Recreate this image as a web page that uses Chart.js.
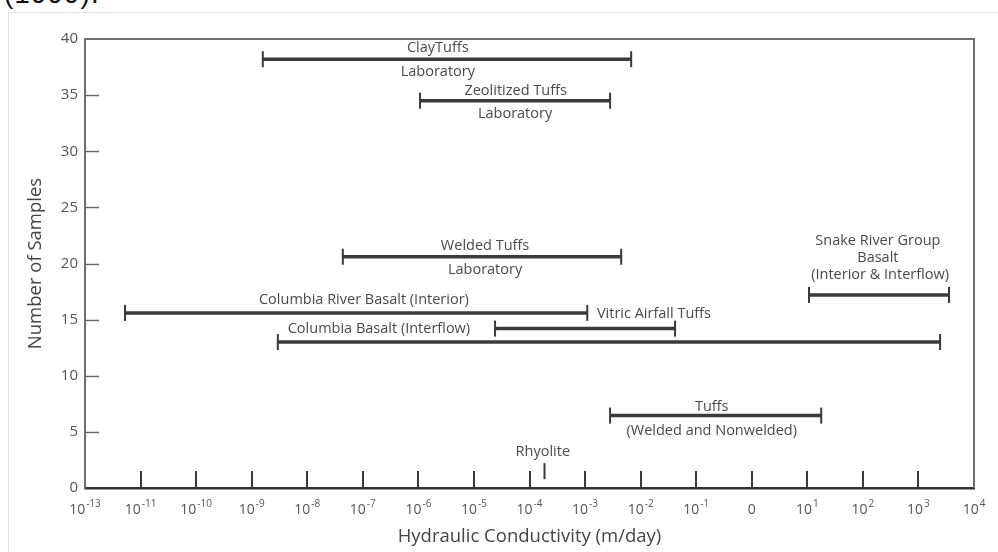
<!DOCTYPE html>
<html>
<head>
<meta charset="utf-8">
<title>Hydraulic Conductivity Ranges</title>
<script src="https://cdn.jsdelivr.net/npm/chart.js@4/dist/chart.umd.min.js"></script>
<style>
  html, body { margin: 0; padding: 0; background: #ffffff; }
  body { width: 998px; height: 552px; position: relative; overflow: hidden; }
  #frame { position: absolute; left: 8px; top: 12px; width: 992px; height: 542px; border: 1px solid #e4e4e4; box-sizing: border-box; }
  #caption { position: absolute; left: 4px; top: -22px; font: 28px "Liberation Sans", Arial, sans-serif; color: #111; letter-spacing: 1px; }
  #plot { position: absolute; left: 0; top: 0; }
</style>
</head>
<body>
<div id="caption">(1999).</div>
<div id="frame"></div>
<canvas id="plot" width="998" height="552"></canvas>
<script>
// Hydraulic conductivity ranges (log10 of m/day) against number of samples
const rangeNames   = ['Clay Tuffs', 'Zeolitized Tuffs', 'Welded Tuffs', 'Columbia River Basalt (Interior)',
                      'Vitric Airfall Tuffs', 'Columbia Basalt (Interflow)', 'Snake River Group Basalt',
                      'Tuffs (Welded and Nonwelded)'];
const rangeLow     = [-8.80, -5.97, -7.36, -11.28, -4.62, -8.53, 1.03, -2.55];
const rangeHigh    = [-2.17, -2.55, -2.35,  -2.96, -1.38,  3.39, 3.55,  1.25];
const rangeSamples = [38.2, 34.5, 20.6, 15.6, 14.2, 13.0, 17.2, 6.45];

// Rhyolite: a single value
const rhyoliteK = -3.73;
const rhyoliteSamples = 1.5;

// Axis ticks: x labels are a base with an optional exponent
const xTickValues = [-12, -11, -10, -9, -8, -7, -6, -5, -4, -3, -2, -1, 0, 1, 2, 3, 4];
const xTickBase   = ['10', '10', '10', '10', '10', '10', '10', '10', '10', '10', '10', '10', '0', '10', '10', '10', '10'];
const xTickPower  = ['-13', '-11', '-10', '-9', '-8', '-7', '-6', '-5', '-4', '-3', '-2', '-1', '', '1', '2', '3', '4'];
const yTicks = [0, 5, 10, 15, 20, 25, 30, 35, 40];

// Text annotations placed in data units (x: log10 K, y: samples)
const noteTexts = ['ClayTuffs', 'Laboratory', 'Zeolitized Tuffs', 'Laboratory', 'Welded Tuffs', 'Laboratory',
                   'Columbia River Basalt (Interior)', 'Vitric Airfall Tuffs', 'Columbia Basalt (Interflow)',
                   'Snake River Group', 'Basalt', '(Interior & Interflow)', 'Tuffs', '(Welded and Nonwelded)',
                   'Rhyolite'];
const noteX = [-5.65, -5.65, -4.25, -4.26, -4.80, -4.80, -6.98, -1.76, -6.71, 2.27, 2.27, 2.31, -0.72, -0.72, -3.76];
const noteY = [39.25, 37.1, 35.4, 33.3, 21.6, 19.45, 16.8, 15.55, 14.2, 22.05, 20.5, 18.95, 7.2, 5.05, 3.2];

const INK = '#3a3a3a';
const TEXT = '#4a4a4a';
const FONT = '"Open Sans", "DejaVu Sans", sans-serif';

const datasets = rangeNames.map((name, i) => ({
  label: name,
  data: [{ x: rangeLow[i], y: rangeSamples[i] }, { x: rangeHigh[i], y: rangeSamples[i] }],
  showLine: true,
  borderColor: INK,
  borderWidth: 3.5,
  pointStyle: 'line',
  rotation: 90,
  pointRadius: 8,
  pointBorderWidth: 2,
  pointBorderColor: INK,
  pointBackgroundColor: INK,
  clip: false
}));
datasets.push({
  label: 'Rhyolite',
  data: [{ x: rhyoliteK, y: rhyoliteSamples }],
  showLine: false,
  pointStyle: 'line',
  rotation: 90,
  pointRadius: 8,
  pointBorderWidth: 2,
  pointBorderColor: INK,
  clip: false
});

// Frame, inward-pointing tick marks, x tick labels with exponents, annotations
const frameTicks = {
  id: 'frameTicks',
  beforeDatasetsDraw(chart) {
    const { ctx, chartArea: a, scales: { x, y } } = chart;
    ctx.save();
    ctx.strokeStyle = '#6e6e6e';
    ctx.lineWidth = 2;
    ctx.beginPath();
    ctx.moveTo(a.left, a.top);
    ctx.lineTo(a.right, a.top);
    ctx.lineTo(a.right, a.bottom);
    ctx.stroke();

    ctx.strokeStyle = '#3a3a3a';
    ctx.lineWidth = 2;
    x.ticks.forEach(t => {
      if (t.value <= x.min || t.value >= x.max) return;
      const px = Math.round(x.getPixelForValue(t.value));
      ctx.beginPath();
      ctx.moveTo(px, a.bottom);
      ctx.lineTo(px, a.bottom - 17);
      ctx.stroke();
    });
    ctx.strokeStyle = '#6a6a6a';
    ctx.lineWidth = 1.5;
    y.ticks.forEach(t => {
      if (t.value <= y.min || t.value >= y.max) return;
      const py = Math.round(y.getPixelForValue(t.value)) + 0.5;
      ctx.beginPath();
      ctx.moveTo(a.left, py);
      ctx.lineTo(a.left + 14, py);
      ctx.stroke();
    });

    // x tick labels: base plus raised exponent
    ctx.fillStyle = '#555';
    ctx.textBaseline = 'alphabetic';
    ctx.textAlign = 'left';
    xTickValues.forEach((v, i) => {
      const px = x.getPixelForValue(v);
      ctx.font = '14px ' + FONT;
      const wb = ctx.measureText(xTickBase[i]).width;
      ctx.font = '10px ' + FONT;
      const wp = xTickPower[i] ? ctx.measureText(xTickPower[i]).width + 1 : 0;
      const start = px - (wb + wp) / 2;
      ctx.font = '14px ' + FONT;
      ctx.fillText(xTickBase[i], start, a.bottom + 26);
      if (xTickPower[i]) {
        ctx.font = '10px ' + FONT;
        ctx.fillText(xTickPower[i], start + wb + 1, a.bottom + 19);
      }
    });
    ctx.restore();
  },
  afterDatasetsDraw(chart) {
    const { ctx, scales: { x, y } } = chart;
    ctx.save();
    ctx.fillStyle = TEXT;
    ctx.font = '14.5px ' + FONT;
    ctx.textAlign = 'center';
    ctx.textBaseline = 'middle';
    noteTexts.forEach((txt, i) => {
      ctx.fillText(txt, x.getPixelForValue(noteX[i]), y.getPixelForValue(noteY[i]));
    });
    ctx.restore();
  }
};

new Chart(document.getElementById('plot'), {
  type: 'scatter',
  data: { datasets },
  options: {
    responsive: false,
    animation: false,
    devicePixelRatio: 1,
    layout: { padding: { top: 39, right: 24, left: 0, bottom: 0 } },
    plugins: { legend: { display: false }, tooltip: { enabled: false } },
    scales: {
      x: {
        type: 'linear',
        min: -12,
        max: 4,
        afterFit(s) { s.height = 64; },
        afterBuildTicks(s) { s.ticks = xTickValues.map(v => ({ value: v })); },
        grid: { display: false, drawTicks: false },
        border: { display: true, color: '#333', width: 2.5 },
        ticks: { display: false, autoSkip: false, maxRotation: 0 },
        title: {
          display: true,
          text: 'Hydraulic Conductivity (m/day)',
          color: '#444',
          font: { family: FONT, size: 18.5 },
          padding: { top: 0, bottom: 4 }
        }
      },
      y: {
        type: 'linear',
        min: 0,
        max: 40,
        afterFit(s) { s.width = 85; },
        afterBuildTicks(s) { s.ticks = yTicks.map(v => ({ value: v })); },
        grid: { display: false, drawTicks: false },
        border: { display: true, color: '#6e6e6e', width: 2 },
        ticks: {
          padding: 7,
          color: '#555',
          font: { family: FONT, size: 15 }
        },
        title: {
          display: true,
          text: 'Number of Samples',
          color: '#444',
          font: { family: FONT, size: 18.5 },
          padding: { top: 25, bottom: 0 }
        }
      }
    }
  },
  plugins: [frameTicks]
});
</script>
</body>
</html>
